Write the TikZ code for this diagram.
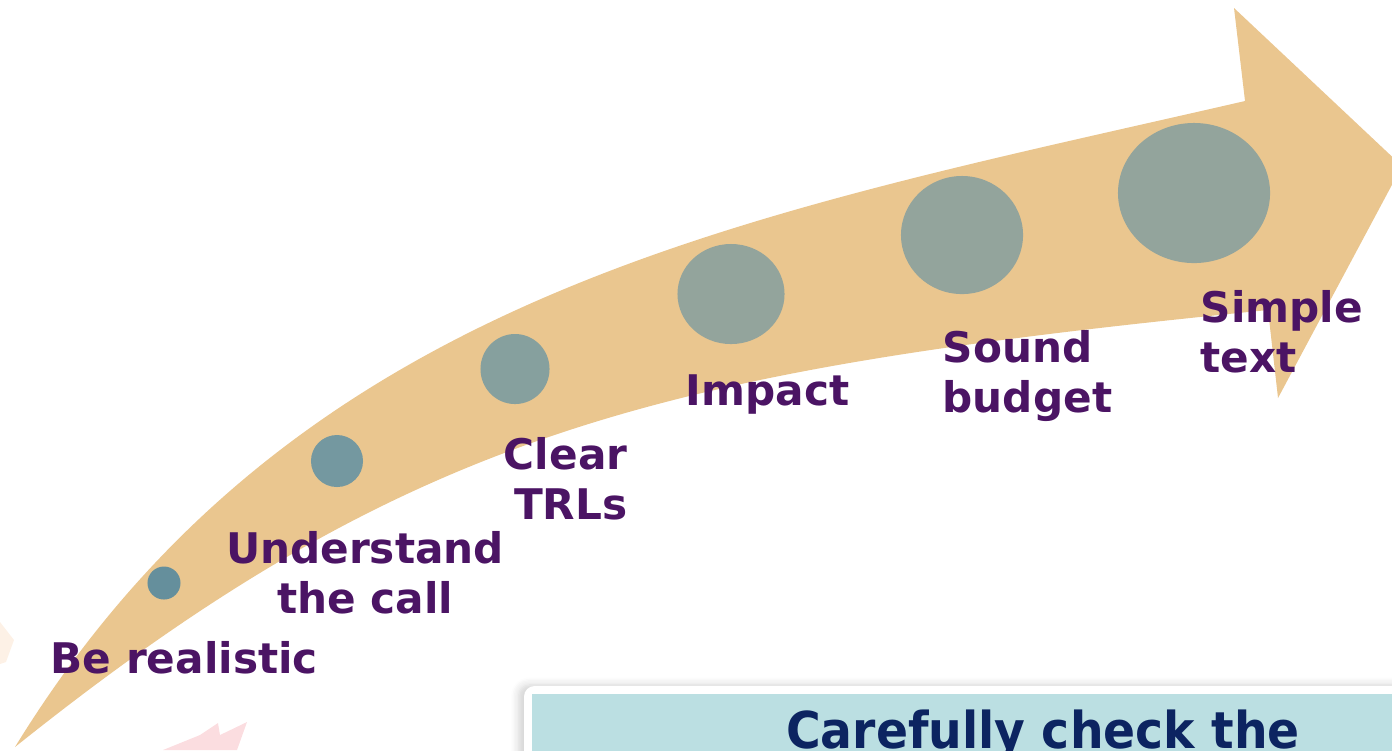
\documentclass[tikz,border=0pt]{standalone}
\usepackage{fontspec}
\setmainfont{DejaVu Sans}
\usetikzlibrary{shapes.geometric,shadows.blur}
\definecolor{arrow-tan}{HTML}{EAC68F}
\definecolor{label-purple}{HTML}{4B1464}
\definecolor{dot-one}{HTML}{658F9C}
\definecolor{dot-two}{HTML}{7498A0}
\definecolor{dot-three}{HTML}{86A09E}
\definecolor{dot-grey}{HTML}{93A49C}
\definecolor{note-blue}{HTML}{BBDFE2}
\definecolor{note-navy}{HTML}{0C2461}
\definecolor{blush}{HTML}{FBDDE0}
\definecolor{peach}{HTML}{FDF1E6}

\begin{document}
\begin{tikzpicture}[x=0.01cm, y=-0.01cm,
    dot/.style={ellipse, inner sep=0pt, draw=none},
    lbl/.style={font=\fontsize{12}{14.2}\selectfont\bfseries, text=label-purple, inner sep=0pt}]
    \useasboundingbox (0,0) rectangle (1392,750);
    \clip (0,0) rectangle (1392,750);
    % faint marks of the slide background
    \fill[peach] (0,622) -- (14,640) -- (6,662) -- (0,664) -- cycle;
    \fill[blush] (163,750) -- (200,735) -- (218,723) -- (220,735) -- (247,722) -- (237,750) -- cycle;
    % the rising arrow
    \fill[arrow-tan] (15,747) .. controls (295,291) and (745,216) .. (1245,101)
      -- (1234,8) -- (1402,166) -- (1278,398) -- (1268,310)
      .. controls (668,370) and (415,427) .. (15,747) -- cycle;
    % steps, growing along the arrow
    \node[dot, fill=dot-one, minimum width=0.33cm, minimum height=0.33cm] (d1) at (164,583) {};
    \node[dot, fill=dot-two, minimum width=0.52cm, minimum height=0.52cm] (d2) at (337,461) {};
    \node[dot, fill=dot-three, minimum width=0.69cm, minimum height=0.70cm] (d3) at (515,369) {};
    \node[dot, fill=dot-grey, minimum width=1.07cm, minimum height=1.00cm] (d4) at (731,294) {};
    \node[dot, fill=dot-grey, minimum width=1.22cm, minimum height=1.18cm] (d5) at (962,235) {};
    \node[dot, fill=dot-grey, minimum width=1.52cm, minimum height=1.40cm] (d6) at (1194,193) {};
    \node[lbl, anchor=base west] (realistic) at (50,673) {Be realistic};
    \node[lbl, anchor=base, align=center] (call) at (365,613) {Understand\\the call};
    \node[lbl, anchor=base east, align=right] (trl) at (628,519) {Clear\\TRLs};
    \node[lbl, anchor=base west] (impact) at (685,405) {Impact};
    \node[lbl, anchor=base west, align=left] (budget) at (942,412) {Sound\\budget};
    \node[lbl, anchor=base west, align=left] (simple) at (1200,372) {Simple\\text};
    % note box, cut by the page edge
    \path[fill=white, rounded corners=3pt,
      blur shadow={shadow xshift=-1.5pt, shadow yshift=0.3pt, shadow opacity=18, shadow blur steps=6}]
      (524,686) rectangle (1440,800);
    \fill[note-blue] (532,694) rectangle (1440,800);
    \node[anchor=base, inner sep=0pt, text=note-navy,
      font=\fontsize{14.45}{17}\selectfont\bfseries] (note) at (1043,748)
      {\scalebox{0.93}[1]{Carefully check the}};
\end{tikzpicture}
\end{document}
